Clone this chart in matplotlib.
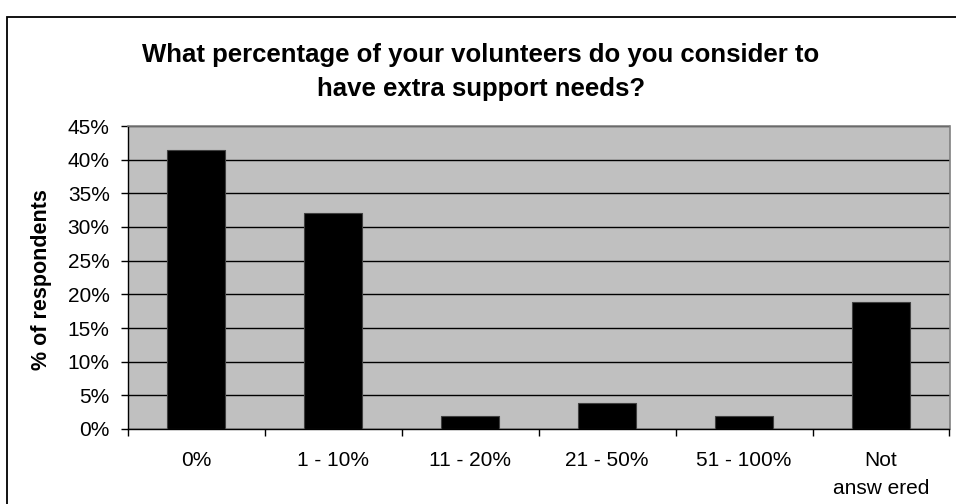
import numpy as np
import matplotlib.pyplot as plt
from matplotlib.patches import Rectangle

# ---------------------------------------------------------
# Data
# ---------------------------------------------------------

categories = ['0%', '1 - 10%', '11 - 20%', '21 - 50%', '51 - 100%', 'Not\nansw ered']
percent = [41.5, 32.1, 1.9, 3.8, 1.9, 18.9]
y_ticks = [0, 5, 10, 15, 20, 25, 30, 35, 40, 45]

plt.rcParams['font.family'] = ['Liberation Sans', 'DejaVu Sans']

# ---------------------------------------------------------
# Figure
# ---------------------------------------------------------

fig = plt.figure(figsize=(9.56, 5.04), dpi=100)

# outer chart frame (only left and top visible in the crop)
fig.patches.append(Rectangle(
    (7 / 956, -0.1), 1.2, (504 - 17) / 504 + 0.1,
    transform=fig.transFigure, fill=False,
    edgecolor='black', linewidth=1.3
))

ax = fig.add_axes([127.7 / 956, 75 / 504, (949.5 - 127.7) / 956, (429 - 126) / 504])
ax.set_facecolor('#C0C0C0')

x = np.arange(len(categories))
ax.bar(x, percent, width=0.42, color='black', edgecolor='#404040', linewidth=0.8, zorder=3)

ax.set_xlim(-0.5, len(categories) - 0.5)
ax.set_ylim(0, 45)

ax.set_yticks(y_ticks)
ax.set_yticklabels([f'{v}%' for v in y_ticks], fontsize=15)
ax.yaxis.grid(True, color='black', linewidth=1.0, zorder=1)
ax.set_axisbelow(True)

ax.set_xticks(x)
ax.set_xticklabels(categories, fontsize=15, linespacing=1.6, va='top')
ax.tick_params(axis='x', length=0, pad=16)
ax.set_xticks(np.arange(len(categories) + 1) - 0.5, minor=True)
ax.tick_params(axis='x', which='minor', length=5, width=1, color='black', direction='out')
ax.tick_params(axis='y', length=5, width=1, direction='out', pad=8)

for side in ['top', 'right']:
    ax.spines[side].set_color('#808080')
    ax.spines[side].set_linewidth(1.2)
for side in ['left', 'bottom']:
    ax.spines[side].set_color('black')
    ax.spines[side].set_linewidth(1.0)

ax.text(41.7 / 956, 1 - 280 / 504, '% of respondents', transform=fig.transFigure,
        rotation=90, ha='center', va='center', fontsize=15.5, fontweight='bold')

fig.text(
    481 / 956, 1 - 72 / 504,
    'What percentage of your volunteers do you consider to\nhave extra support needs?',
    ha='center', va='center', fontsize=18.5, fontweight='bold', linespacing=1.5
)

fig.savefig('out.png', dpi=100)
